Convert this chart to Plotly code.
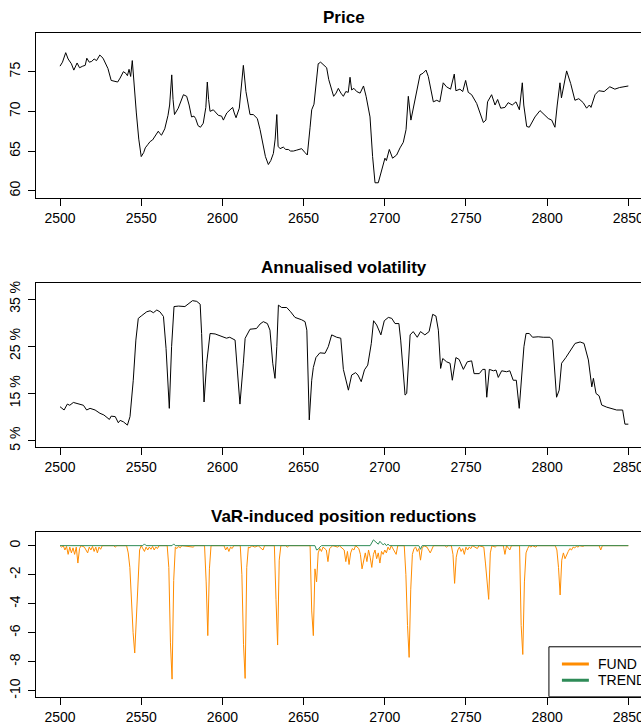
import plotly.graph_objects as go

# ---- Price ----
price_t = [2500, 2501.5, 2503.5, 2505, 2507, 2508.5, 2510.5, 2512, 2514, 2515.5, 2516.5, 2518, 2519.5,
           2521, 2522.5, 2524.5, 2526.5, 2528, 2529.5, 2531.5, 2533, 2535.5, 2537, 2539, 2540.5, 2541.5,
           2542.5, 2543.5, 2544.5, 2545.5, 2547, 2548.5, 2550, 2551.5, 2552.5, 2554, 2555.5, 2557, 2558.5,
           2559.5, 2560.5, 2561.5, 2562.5, 2564.5, 2566.5, 2567.5, 2568.8, 2569.6, 2570.5, 2572.8, 2574.5,
           2576, 2578, 2579.5, 2581, 2582.5, 2583.5, 2585, 2586.5, 2588.2, 2589.8, 2590.7, 2591.5, 2592.4,
           2594.4, 2596, 2597.5, 2599.5, 2600.6, 2602.7, 2604.7, 2606.3, 2607.3, 2608.4, 2610.4, 2611.8,
           2612.9, 2614.5, 2615.8, 2617, 2619, 2620.5, 2621.5, 2623.2, 2625, 2626.5, 2628.3, 2629.8, 2631.4,
           2632.5, 2633.5, 2634.3, 2635.5, 2637.5, 2639, 2640.6, 2642, 2643.7, 2645.5, 2646.8, 2648.8,
           2650.9, 2652.3, 2654, 2655, 2656.4, 2657.5, 2659, 2660.5, 2662, 2664.2, 2665.5, 2667.3, 2668.5,
           2670, 2671.4, 2673, 2674.5, 2676, 2677.5, 2678.6, 2679.6, 2681, 2682.7, 2684.8, 2686.9, 2688.5,
           2690, 2690.9, 2692.5, 2694, 2696, 2698, 2700.1, 2701, 2702.8, 2704.8, 2707.3, 2709.4, 2711.4,
           2713.1, 2714.5, 2716.1, 2717.6, 2719.6, 2721.7, 2723.5, 2725.4, 2726.8, 2728.5, 2729.9, 2732,
           2733.9, 2736, 2738, 2740.5, 2742.8, 2743.8, 2746.3, 2748, 2749.8, 2751.4, 2753.5, 2756.6, 2758.6,
           2760.7, 2762.3, 2763.3, 2765.8, 2767.9, 2769.5, 2771.4, 2774, 2776, 2778.5, 2780.8, 2782.9,
           2784.7, 2785.6, 2787.4, 2789, 2792.5, 2795.6, 2797.8, 2800.7, 2802.8, 2804.8, 2806.2, 2807.9,
           2808.8, 2812, 2814.5, 2817.1, 2819.5, 2822.2, 2824.3, 2826, 2827, 2829.5, 2831.8, 2835.1, 2838.6,
           2841.7, 2844.5, 2847.4, 2850]
price_v = [75.7, 76.2, 77.4, 76.6, 76.0, 75.2, 76.1, 75.5, 75.7, 75.8, 76.7, 76.2, 76.3,
           76.6, 76.4, 77.1, 76.7, 76.0, 75.4, 73.9, 73.8, 73.7, 74.2, 75.0, 74.8, 74.5,
           75.3, 74.4, 76.4, 73.5, 69.8, 66.5, 64.3, 64.8, 65.4, 65.8, 66.2, 66.4, 66.9,
           67.3, 67.5, 67.2, 67.0, 67.8, 69.5, 70.8, 74.6, 71.5, 69.6, 70.4, 71.3,
           72.1, 71.9, 70.8, 69.3, 69.4, 69.1, 68.2, 68.0, 68.5, 70.5, 73.7, 71.5, 70.0,
           70.2, 69.8, 69.5, 69.4, 68.9, 69.8, 70.2, 70.5, 69.8, 69.2, 70.4, 73.0,
           75.8, 72.5, 71.0, 69.6, 69.6, 69.3, 69.1, 67.7, 65.6, 64.3, 63.3, 63.8, 64.7,
           66.5, 69.6, 65.6, 65.3, 65.5, 65.2, 65.2, 65.0, 65.0, 65.1, 65.2, 65.3,
           64.8, 64.5, 68.0, 70.2, 70.9, 73.5, 76.0, 76.2, 75.9, 75.5, 74.0, 72.7, 71.9,
           72.3, 72.9, 72.3, 71.9, 72.5, 72.4, 74.3, 72.7, 72.9, 72.5, 72.3, 73.2, 71.9,
           70.5, 69.3, 64.3, 61.0, 61.0, 62.6, 64.1, 63.8, 65.2, 64.1, 64.5, 65.4, 66.1,
           67.7, 71.9, 68.9, 70.4, 72.3, 74.6, 74.8, 75.2, 74.4, 72.5, 71.2, 71.4,
           71.2, 73.6, 73.1, 72.8, 74.7, 72.6, 72.8, 72.5, 73.9, 72.4, 72.1, 71.0, 69.8,
           68.6, 68.9, 71.2, 72.1, 70.8, 71.5, 70.4, 70.5, 71.1, 70.8, 71.2, 70.2,
           73.6, 70.8, 68.1, 68.0, 69.3, 70.1, 69.7, 69.1, 68.9, 68.0, 70.8, 73.6,
           71.7, 75.1, 73.5, 71.4, 71.6, 71.1, 70.4, 70.8, 70.5, 72.1, 72.6, 72.5, 73.1,
           72.8, 73.0, 73.1, 73.2]

# ---- Annualised volatility (%) ----
vol_t = [2500, 2502.5, 2504.5, 2506, 2508.2, 2511, 2514.4, 2516.4, 2518.5, 2521.6, 2524.6, 2527, 2530.4,
         2531.5, 2534, 2535.9, 2537, 2539, 2541.5, 2543.1, 2545.1, 2546.7, 2548.2, 2550, 2553.4, 2555.5,
         2557.5, 2559.6, 2561.5, 2563.7, 2565.3, 2567.3, 2568.7, 2570.2, 2573, 2576.9, 2580, 2581.6,
         2584.2, 2586.3, 2587.2, 2588.7, 2590.3, 2592.4, 2595.5, 2599.5, 2602.5, 2604.5, 2607.8, 2609.2,
         2610.8, 2612.9, 2614, 2617, 2621, 2623.2, 2625.2, 2627.7, 2629.3, 2631, 2632.4, 2633.5, 2634.5,
         2636.5, 2639.6, 2642, 2644.7, 2648.8, 2650.9, 2652, 2653.5, 2655, 2656, 2657.6, 2660, 2663.2,
         2665.2, 2667.3, 2670.4, 2672.9, 2674.5, 2677.6, 2679.6, 2682, 2683.5, 2685.5, 2687.5, 2689.5,
         2691.7, 2693.1, 2695, 2697.6, 2699.7, 2702.2, 2704.3, 2706.3, 2708.7, 2709.8, 2711.5, 2712.5,
         2713.5, 2715.6, 2717.5, 2720, 2722, 2724.7, 2727.3, 2729.5, 2731.5, 2733, 2734.4, 2735.7, 2738.1,
         2740.2, 2741.6, 2743.8, 2745.8, 2748.4, 2750.8, 2753.5, 2755, 2758.2, 2760.3, 2761.8, 2762.8,
         2764.4, 2766.9, 2768.5, 2769.9, 2772, 2775, 2777, 2779.1, 2781, 2782.8, 2784.2, 2785.7, 2787,
         2789, 2791, 2794.5, 2797.6, 2801.7, 2803.3, 2804.8, 2805.8, 2807.4, 2808.9, 2811.5, 2813.7,
         2817.2, 2820.3, 2822.7, 2825.4, 2827.5, 2828.5, 2830.1, 2832, 2833.6, 2836.7, 2839.8, 2842.8,
         2846.5, 2847.9, 2850]
vol_v = [12.2, 11.5, 12.75, 12.5, 13.1, 12.9, 12.5, 11.5, 11.85, 11.5, 10.8, 10.45, 9.5,
         10.2, 10.1, 8.8, 9.3, 9.0, 8.3, 10.1, 17.8, 26.3, 30.9, 31.4, 32.3, 32.5,
         32.1, 32.67, 32.3, 31.3, 24.55, 11.85, 24.9, 33.4, 33.5, 33.4, 34.1, 34.65,
         34.5, 33.9, 27.7, 13.2, 21.4, 27.7, 27.6, 27.16, 26.7, 26.9, 26.3, 19.96,
         12.75, 21.4, 26.67, 28.6, 28.75, 29.7, 30.2, 29.8, 28.4, 21.4, 18.2, 24.9, 33.7,
         33.2, 33.2, 32.3, 31.1, 30.6, 30.2, 28.4, 9.4, 17.8, 20.5, 22.6, 23.6, 23.5,
         24.9, 27.4, 26.9, 26.7, 20.1, 15.7, 18.9, 19.4, 18.9, 17.5, 20.0, 21.0,
         25.6, 30.4, 29.5, 27.4, 30.4, 31.1, 30.9, 29.8, 29.8, 26.3, 18.0, 14.66,
         15.0, 27.4, 28.1, 26.9, 28.1, 27.4, 28.1, 31.75, 31.4, 28.4, 20.3, 22.4, 21.7,
         21.4, 17.8, 22.6, 22.2, 20.1, 21.7, 21.9, 19.2, 19.2, 20.1, 20.1, 14.2,
         20.1, 19.8, 19.96, 18.4, 19.8, 19.6, 19.8, 17.8, 17.8, 11.85, 17.8, 24.9, 27.7,
         27.7, 26.9, 27.0, 26.9, 26.9, 26.3, 17.8, 14.2, 15.7, 21.4, 22.6, 23.8,
         25.6, 25.9, 25.6, 22.1, 16.4, 18.2, 15.0, 14.5, 12.55, 12.1, 11.85, 11.5,
         11.5, 8.5, 8.5]

# ---- VaR-induced position reductions ----
fund_t = [2500, 2501, 2502, 2503, 2504, 2505, 2506, 2507, 2508, 2509, 2510, 2511, 2512, 2513, 2515, 2517,
          2518, 2519, 2520, 2521, 2522, 2523, 2524, 2525, 2526, 2533, 2534, 2535, 2541, 2542, 2543, 2544,
          2545, 2546, 2547, 2548, 2549, 2550, 2551, 2552, 2553, 2554, 2555, 2556, 2557, 2558, 2559, 2560,
          2561, 2566, 2567, 2568, 2569, 2570, 2571, 2572, 2573, 2574, 2575, 2582, 2583, 2589, 2590, 2591,
          2592, 2593, 2601, 2602, 2603, 2604, 2605, 2606, 2607, 2611, 2612, 2613, 2614, 2615, 2616, 2617,
          2618, 2620, 2622, 2625, 2626, 2632, 2633, 2634, 2635, 2636, 2639, 2640, 2641, 2654, 2655, 2656,
          2657, 2658, 2659, 2660, 2661, 2662, 2664, 2665, 2666, 2667, 2668, 2671, 2672, 2675, 2676, 2677,
          2678, 2679, 2680, 2681, 2682, 2684, 2685, 2686, 2687, 2688, 2689, 2690, 2691, 2692, 2693, 2694,
          2695, 2696, 2697, 2698, 2699, 2700, 2701, 2702, 2703, 2704, 2707, 2708, 2712, 2713, 2714, 2715,
          2716, 2717, 2718, 2719, 2720, 2721, 2722, 2723, 2724, 2726, 2728, 2729, 2730, 2737, 2738, 2739,
          2741, 2742, 2743, 2744, 2745, 2746, 2747, 2748, 2749, 2750, 2751, 2752, 2753, 2754, 2757, 2758,
          2761, 2762, 2763, 2764, 2765, 2766, 2768, 2769, 2773, 2774, 2775, 2777, 2778, 2783, 2784, 2785,
          2786, 2787, 2788, 2789, 2790, 2791, 2793, 2794, 2805, 2806, 2807, 2808, 2809, 2810, 2811, 2812,
          2813, 2814, 2815, 2816, 2817, 2818, 2819, 2820, 2822, 2823, 2832, 2833, 2834, 2850]
fund_v = [0, -0.1, 0, -0.3, -0.05, -0.6, -0.1, -0.5, -0.15, -0.6, -0.1, -1.2, -0.2, 0, -0.1, -0.5,
          -0.1, -0.3, -0.05, -0.4, -0.1, -0.5, -0.1, -0.25, 0, 0, -0.1, 0, 0, -0.5, -1.5, -4.0,
          -6.0, -7.4, -5.0, -2.0, -0.3, 0, -0.2, -0.4, -0.1, -0.3, -0.1, -0.25, -0.05, -0.3, -0.1, -0.2,
          0, 0, -1.5, -6.7, -9.2, -2.4, -0.1, -0.2, -0.05, -0.15, 0, -0.1, 0, 0, -2.5, -6.2,
          -1.6, 0, 0, -0.3, -0.1, -0.4, -0.1, -0.2, 0, 0, -2.0, -6.8, -9.15, -1.5, -0.1, -0.15,
          0, -0.1, 0, -0.3, 0, 0, -3.7, -6.85, -1.0, 0, 0, -0.1, 0, 0, -4.5, -6.2,
          -1.6, -2.5, -0.5, -0.2, -0.4, -0.1, -0.3, -1.1, -0.2, -0.1, 0, -0.1, 0, -0.3, -1.1, -0.4,
          -1.3, -0.5, -0.2, -0.3, 0, -0.2, -0.6, -1.6, -0.9, -0.5, -1.1, -0.3, -0.8, -1.5, -0.6, -0.3,
          -0.9, -0.5, -1.2, -0.4, -0.6, -0.3, -0.5, -0.1, -0.3, 0, -0.6, 0, 0, -2.0, -5.5, -7.7,
          -3.0, -0.6, -0.2, -0.1, -0.4, -0.2, -1.0, -0.2, 0, -0.1, -0.5, -0.2, 0, 0, -0.1, 0,
          0, -0.6, -2.6, -0.8, -0.3, -0.1, -0.4, -0.2, -0.6, -0.1, -0.3, -0.1, -0.2, 0, -0.2, 0,
          -0.1, -1.2, -2.8, -3.7, -0.5, 0, -0.1, 0, 0, -0.6, 0, -0.3, 0, 0, -5.5, -7.5,
          -2.5, -0.5, -0.2, 0, -0.1, 0, -0.1, 0, 0, -0.3, -1.5, -3.4, -1.0, -0.5, -0.9, -0.6,
          -0.4, -0.2, -0.3, -0.1, -0.15, -0.05, -0.1, 0, -0.05, 0, 0, -0.3, 0, 0]

trend_t = [2500, 2551, 2552, 2553, 2569, 2570, 2571, 2657, 2658, 2659, 2660, 2661, 2691, 2692, 2693,
           2694, 2695, 2696, 2697, 2698, 2699, 2700, 2701, 2702, 2703, 2721, 2722, 2723, 2850]
trend_v = [0, 0, 0.12, 0, 0, 0.12, 0, 0, -0.3, -0.25, -0.1, 0, 0, 0.2, 0.4,
           0.3, 0.2, 0.1, 0.3, 0.2, 0.05, 0.15, 0.0, 0.1, 0, 0, -0.25, 0, 0]

x_ticks = [2500, 2550, 2600, 2650, 2700, 2750, 2800, 2850]
price_ticks = [60, 65, 70, 75]
vol_ticks = [5, 15, 25, 35]
var_ticks = [0, -2, -4, -6, -8, -10]

W, H = 641, 726
FONT = "Liberation Sans, Arial, sans-serif"
X_RANGE = [2485.2, 2857.8]
X_DOMAIN = [36 / W, 1.0]


def ydom(top_px, bottom_px):
    return [(H - bottom_px) / H, (H - top_px) / H]


fig = go.Figure()
fig.add_trace(go.Scatter(x=price_t, y=price_v, mode="lines", line=dict(color="black", width=1),
                         xaxis="x", yaxis="y", showlegend=False))
fig.add_trace(go.Scatter(x=vol_t, y=vol_v, mode="lines", line=dict(color="black", width=1),
                         xaxis="x2", yaxis="y2", showlegend=False))
fig.add_trace(go.Scatter(x=fund_t, y=fund_v, mode="lines", line=dict(color="#FF8C00", width=1),
                         xaxis="x3", yaxis="y3", showlegend=False))
fig.add_trace(go.Scatter(x=trend_t, y=trend_v, mode="lines", line=dict(color="#2E8B57", width=1),
                         xaxis="x3", yaxis="y3", showlegend=False))

xcommon = dict(range=X_RANGE, domain=X_DOMAIN, tickvals=x_ticks, ticktext=[str(v) for v in x_ticks],
               ticks="outside", ticklen=7, tickwidth=1, tickcolor="black", showline=True, mirror=True,
               linecolor="black", linewidth=1, showgrid=False, zeroline=False, automargin=False,
               ticklabeloverflow="allow",
               tickfont=dict(family=FONT, size=14, color="black"))
ycommon = dict(ticks="outside", ticklen=7, tickwidth=1, tickcolor="black", showline=True, mirror=False,
               linecolor="black", linewidth=1, showgrid=False, zeroline=False, automargin=False,
               tickangle=-90, ticklabelstandoff=2, tickfont=dict(family=FONT, size=14, color="black"))

panels = [
    ("", "y", ydom(33.3, 197.7), [59.12, 79.84], price_ticks, [str(v) for v in price_ticks]),
    ("2", "y2", ydom(282.7, 446.7), [3.73, 38.45], vol_ticks, [f"{v} %" for v in vol_ticks]),
    ("3", "y3", ydom(532.3, 696.7), [-10.41, 0.92], var_ticks, [str(v) for v in var_ticks]),
]
for suffix, yname, dom, yr, tv, tt in panels:
    fig.update_layout(**{
        "xaxis" + suffix: dict(xcommon, anchor=yname),
        "yaxis" + suffix: dict(ycommon, domain=dom, range=yr, tickvals=tv, ticktext=tt,
                               anchor="x" + suffix),
    })

# Panel titles
titles = [("Price", 17.3), ("Annualised volatility", 267.3), ("VaR-induced position reductions", 516.7)]
for text, ypx in titles:
    fig.add_annotation(text=f"<b>{text}</b>", xref="x", x=2674.6, yref="paper", y=(H - ypx) / H,
                       xanchor="center", yanchor="middle", showarrow=False,
                       font=dict(family=FONT, size=17, color="black"))

# Legend box in the lower panel
fig.add_shape(type="rect", xref="x3", yref="y3", x0=2801.1, x1=2875, y0=-10.41, y1=-6.97,
              line=dict(color="black", width=1), fillcolor="white", layer="above")
legend_items = [("FUND", "#FF8C00", -8.15), ("TREND", "#2E8B57", -9.28)]
for name, col, yv in legend_items:
    fig.add_shape(type="line", xref="x3", yref="y3", x0=2809.1, x1=2825.7, y0=yv, y1=yv,
                  line=dict(color=col, width=3), layer="above")
    fig.add_annotation(text=name, xref="x3", yref="y3", x=2829.8, y=yv, xanchor="left",
                       yanchor="middle", showarrow=False,
                       font=dict(family=FONT, size=14, color="black"))

fig.update_layout(width=W, height=H, margin=dict(l=0, r=0, t=0, b=0),
                  paper_bgcolor="white", plot_bgcolor="white", template="none", showlegend=False)

fig.write_html("out.html")
